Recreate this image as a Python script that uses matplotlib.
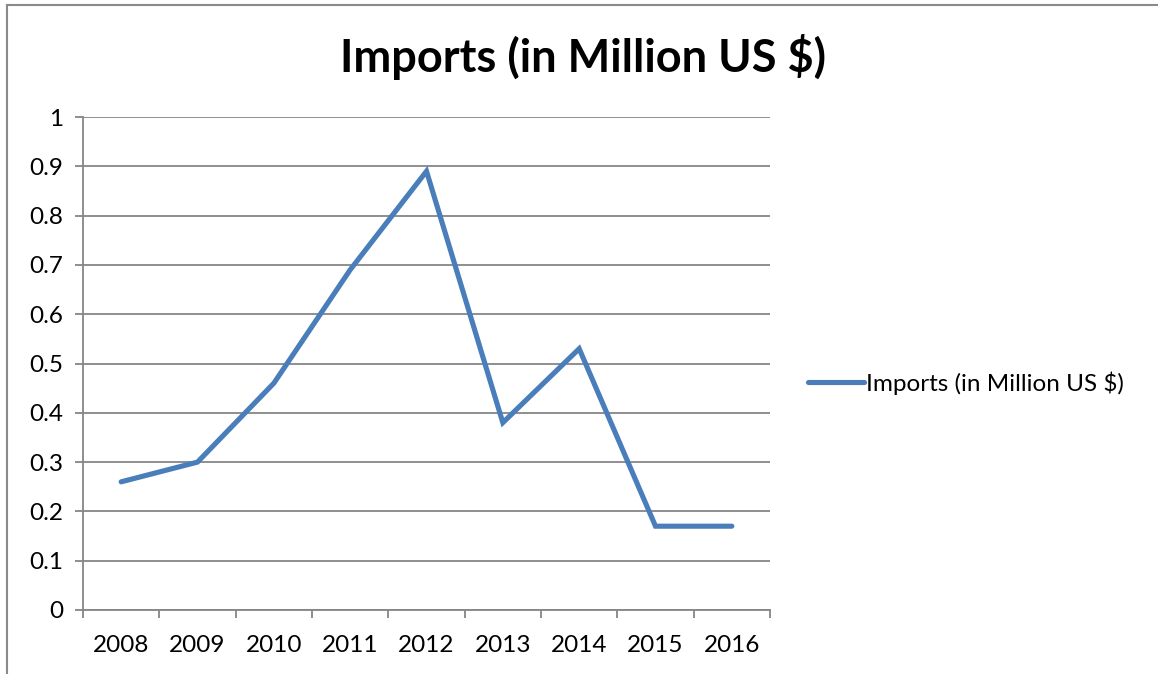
import matplotlib
matplotlib.use('Agg')
import matplotlib.pyplot as plt
from matplotlib.lines import Line2D
import numpy as np

plt.rcParams['font.family'] = ['Lato', 'DejaVu Sans']

years = ['2008', '2009', '2010', '2011', '2012', '2013', '2014', '2015', '2016']
imports = [0.26, 0.30, 0.46, 0.69, 0.89, 0.38, 0.53, 0.17, 0.17]
series_name = 'Imports (in Million US $)'

W, H = 1158, 674
fig = plt.figure(figsize=(W / 100, H / 100), dpi=100)
ax = fig.add_axes([83 / W, 1 - 610 / H, (770 - 83) / W, (610 - 117) / H])

grid_c = '#868686'
line_c = '#4A7EBB'

x = np.arange(len(years))
ax.plot(x, imports, color=line_c, lw=3.7, solid_capstyle='round',
        solid_joinstyle='miter', label=series_name, zorder=3)

ax.set_xlim(-0.5, len(years) - 0.5)
ax.set_ylim(0, 1)
ax.set_yticks(np.arange(0, 1.01, 0.1))
ax.set_yticklabels(['0', '0.1', '0.2', '0.3', '0.4', '0.5', '0.6', '0.7', '0.8', '0.9', '1'])
ax.yaxis.grid(True, color=grid_c, lw=1.3)
ax.set_axisbelow(True)

# category labels sit in the middle, tick marks on the boundaries
ax.set_xticks(x)
ax.set_xticklabels(years)
ax.set_xticks(np.arange(-0.5, len(years)), minor=True)
ax.tick_params(axis='x', which='major', length=0, pad=18, labelsize=17.5)
ax.tick_params(axis='x', which='minor', length=6, width=1.3, color=grid_c, direction='out')
ax.tick_params(axis='y', length=6, width=1.3, color=grid_c, direction='out', pad=8, labelsize=17.5)

for s in ['top', 'right']:
    ax.spines[s].set_visible(False)
for s in ['left', 'bottom']:
    ax.spines[s].set_color(grid_c)
    ax.spines[s].set_linewidth(1.3)

fig.text(583 / W, 1 - 57 / H, series_name, ha='center', va='center',
         fontsize=32.5, fontweight='bold')

leg = fig.legend(loc='center left', bbox_to_anchor=(808 / W, 1 - 383 / H),
                 frameon=False, fontsize=17.5, handlelength=2.3,
                 handletextpad=0.1, borderpad=0, borderaxespad=0)

# chart area border
fig.add_artist(Line2D([7 / W, 7 / W], [0, 1 - 5 / H], color='#8a8a8a', lw=1.5,
                      transform=fig.transFigure))
fig.add_artist(Line2D([7 / W, 1], [1 - 5 / H, 1 - 5 / H], color='#8a8a8a', lw=1.5,
                      transform=fig.transFigure))

fig.savefig('out.png', dpi=100)
